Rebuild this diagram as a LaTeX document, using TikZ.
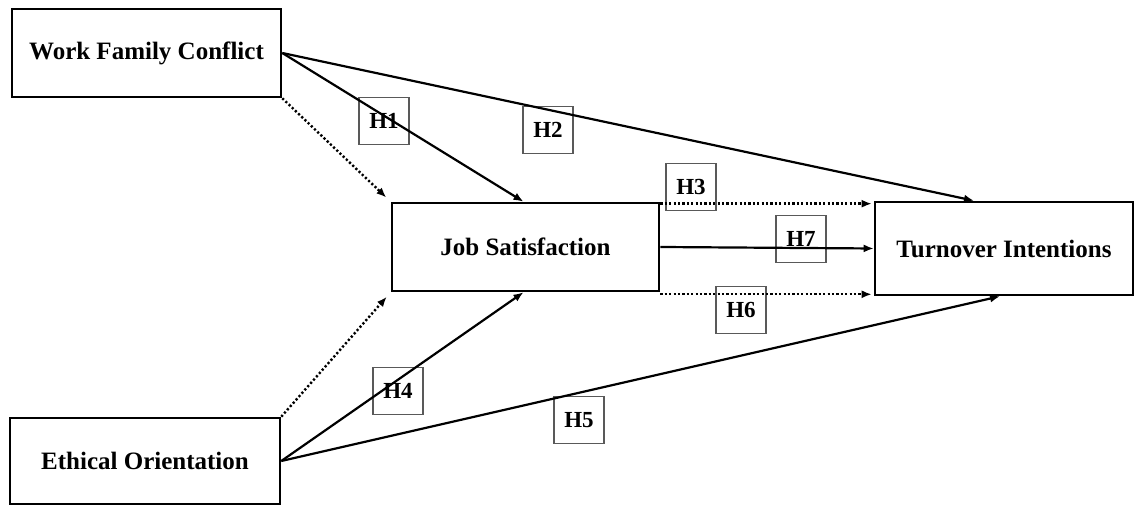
\documentclass[tikz,border=0pt]{standalone}
\usepackage{fontspec}
\setmainfont{Liberation Serif}
\usetikzlibrary{arrows.meta, positioning, calc}

\begin{document}
\begin{tikzpicture}[
    x=0.5pt, y=-0.5pt,
    >={Latex[length=5pt,width=4pt]},
    factor/.style={rectangle, draw=black, line width=1.3pt, inner sep=0pt,
        font=\fontsize{12.5}{15}\selectfont\bfseries},
    hyp/.style={rectangle, draw=gray!70!black, line width=0.7pt, inner sep=0pt,
        minimum width=25pt, minimum height=23.5pt,
        font=\fontsize{11.5}{14}\selectfont\bfseries},
    path/.style={->, line width=1.1pt},
    mediate/.style={->, line width=1.2pt, dash pattern=on 1.1pt off 1.1pt, shorten >=3pt}
]

% -------- Canvas --------
\useasboundingbox (0,0) rectangle (1137,506);

% -------- Constructs --------
\node[factor, minimum width=134.5pt, minimum height=44pt] (wfc) at (146.5,53) {Work Family Conflict};
\node[factor, minimum width=133.5pt, minimum height=44pt] (js) at (525.5,247) {Job Satisfaction};
\node[factor, minimum width=129pt, minimum height=46.5pt] (ti) at (1004,248.5) {Turnover Intentions};
\node[factor, minimum width=135pt, minimum height=43pt] (eo) at (145,461) {Ethical Orientation};

% -------- Hypothesis labels --------
\node[hyp] (h1) at (384,121) {H1};
\node[hyp] (h2) at (548,130) {H2};
\node[hyp] (h3) at (691,187) {H3};
\node[hyp] (h7) at (801,239) {H7};
\node[hyp] (h6) at (741,310) {H6};
\node[hyp] (h4) at (398,391) {H4};
\node[hyp] (h5) at (579,420) {H5};

% -------- Direct paths --------
\draw[path] (wfc.east) -- ([xshift=-1pt]js.north);
\draw[path] (wfc.east) -- ([xshift=-15pt]ti.north);
\draw[path] (eo.east) -- ([xshift=-1pt]js.south);
\draw[path] (eo.east) -- ([xshift=-2pt]ti.south);
\draw[path] (js.east) -- (ti.west);

% -------- Mediated paths (dotted) --------
\draw[mediate] (wfc.south east) -- (js.north west);
\draw[mediate] (eo.north east) -- (js.south west);

\coordinate (jsup) at ([yshift=-1pt]js.north east);
\coordinate (jsdown) at ([yshift=-1pt]js.south east);
\draw[mediate, shorten >=1pt] (jsup) -- (jsup -| ti.west);
\draw[mediate, shorten >=1pt] (jsdown) -- (jsdown -| ti.west);

\end{tikzpicture}
\end{document}
